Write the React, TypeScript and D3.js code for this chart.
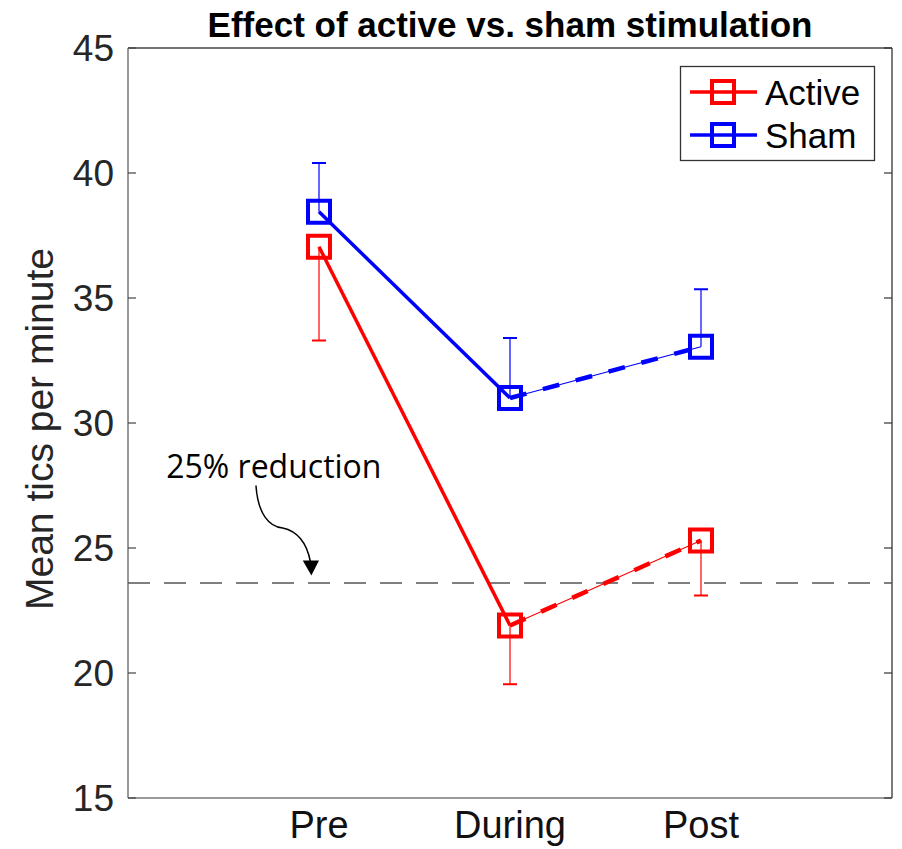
import * as d3 from "d3";

const conditions = ["Pre", "During", "Post"];
const activeMean = [37.05, 21.9, 25.3];
const activeLower = [33.3, 19.55, 23.1];
const shamMean = [38.45, 31.0, 33.05];
const shamUpper = [40.4, 33.4, 35.35];
const reductionLevel = 23.6;
const yTicks = [15, 20, 25, 30, 35, 40, 45];

const W = 902;
const H = 849;
const margin = { top: 48, right: 10, bottom: 51, left: 128 };

export default function App() {
  const x = d3.scaleLinear().domain([0, 4]).range([margin.left, W - margin.right]);
  const y = d3.scaleLinear().domain([15, 45]).range([H - margin.bottom, margin.top]);
  const x0 = x(0), x1 = x(4), yb = y(15), yt = y(45);

  const series = [
    { name: "Active", color: "#ff0000", mean: activeMean, err: activeLower },
    { name: "Sham", color: "#0000ff", mean: shamMean, err: shamUpper },
  ];

  const line = d3.line<number>().x((_, i) => x(i + 1)).y((d) => y(d));
  const sq = 22;

  // annotation arrow, in data units
  const p = (a: number, b: number) => `${x(a)},${y(b)}`;
  const arrow = `M${p(0.67, 27.5)} C${p(0.68, 26.35)} ${p(0.74, 25.85)} ${p(0.81, 25.8)} C${p(0.9, 25.65)} ${p(0.94, 25.05)} ${p(0.955, 24.45)}`;
  const head = `M${p(0.915, 24.5)} L${p(1.0, 24.5)} L${p(0.96, 23.9)} Z`;

  return (
    <svg width={W} height={H} style={{ position: "absolute", left: 0, top: 0, background: "#fff" }}
      fontFamily="'Liberation Sans', Arial, sans-serif">
      {/* axes box */}
      <line x1={x0} x2={x1} y1={yt} y2={yt} stroke="#444" strokeWidth={1.3} />
      <line x1={x1} x2={x1} y1={yt} y2={yb} stroke="#333" strokeWidth={1.3} />
      <line x1={x0} x2={x1} y1={yb} y2={yb} stroke="#777" strokeWidth={1.5} />
      <line x1={x0} x2={x0} y1={yt} y2={yb} stroke="#777" strokeWidth={1.5} />
      {yTicks.map((t) => (
        <g key={t}>
          <line x1={x0} x2={x0 + 8} y1={y(t)} y2={y(t)} stroke="#444" strokeWidth={1.2} />
          <line x1={x1 - 8} x2={x1} y1={y(t)} y2={y(t)} stroke="#333" strokeWidth={1.2} />
          <text x={x0 - 14} y={y(t)} dy="0.36em" textAnchor="end" fontSize={37} fill="#262626">{t}</text>
        </g>
      ))}
      {conditions.map((c, i) => (
        <text key={c} x={x(i + 1)} y={yb + 40} textAnchor="middle" fontSize={38} fill="#111">{c}</text>
      ))}
      <text transform={`translate(53,${(yt + yb) / 2 + 6}) rotate(-90)`} textAnchor="middle" fontSize={39} fill="#262626">
        Mean tics per minute
      </text>
      <text x={(x0 + x1) / 2} y={37} textAnchor="middle" fontSize={35} fontWeight="bold" fill="#000">
        Effect of active vs. sham stimulation
      </text>

      {/* 25% reduction line */}
      <line x1={x0} x2={x1} y1={y(reductionLevel)} y2={y(reductionLevel)} stroke="#555" strokeWidth={1.5} strokeDasharray="22 14" />
      <text x={x(0.2)} y={y(27.8)} fontFamily="'Open Sans', sans-serif" fontSize={32} fill="#000">25% reduction</text>
      <path d={arrow} fill="none" stroke="#000" strokeWidth={1.5} />
      <path d={head} fill="#000" />

      {series.map((s) => (
        <g key={s.name}>
          {s.mean.map((m, i) => (
            <g key={i}>
              <line x1={x(i + 1)} x2={x(i + 1)} y1={y(m)} y2={y(s.err[i])} stroke={s.color} strokeWidth={1.2} />
              <line x1={x(i + 1) - 7} x2={x(i + 1) + 7} y1={y(s.err[i])} y2={y(s.err[i])} stroke={s.color} strokeWidth={2} />
            </g>
          ))}
          <path d={line(s.mean.slice(0, 2))!} fill="none" stroke={s.color} strokeWidth={3.5} />
          <path d={`M${x(2)},${y(s.mean[1])} L${x(3)},${y(s.mean[2])}`} fill="none" stroke={s.color} strokeWidth={1.2} />
          <path d={`M${x(2)},${y(s.mean[1])} L${x(3)},${y(s.mean[2])}`} fill="none" stroke={s.color} strokeWidth={4.5} strokeDasharray="17 17" />
          {s.mean.map((m, i) => (
            <rect key={i} x={x(i + 1) - sq / 2} y={y(m) - sq / 2} width={sq} height={sq} fill="none" stroke={s.color} strokeWidth={4} />
          ))}
        </g>
      ))}

      {/* legend */}
      <rect x={680.5} y={66.5} width={194} height={94} fill="#fff" stroke="#333" strokeWidth={1.3} />
      {series.map((s, i) => {
        const ly = 92 + i * 43;
        return (
          <g key={s.name}>
            <line x1={690} x2={757} y1={ly} y2={ly} stroke={s.color} strokeWidth={3.5} />
            <rect x={723 - 11} y={ly - 11} width={22} height={22} fill="none" stroke={s.color} strokeWidth={4} />
            <text x={765} y={ly} dy="0.36em" fontSize={35} fill="#000">{s.name}</text>
          </g>
        );
      })}
    </svg>
  );
}
